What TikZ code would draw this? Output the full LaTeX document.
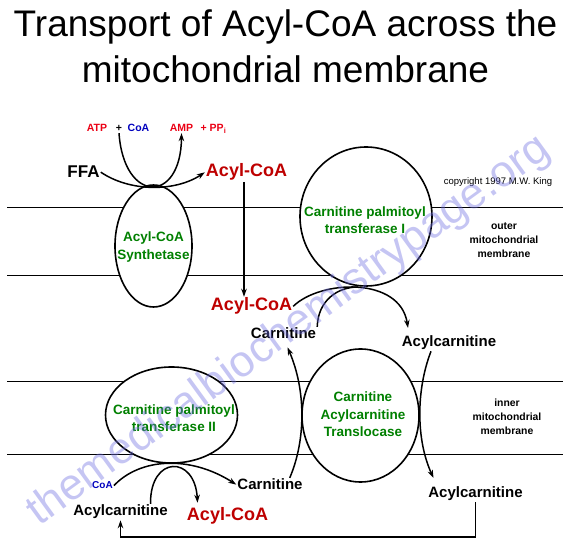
\documentclass[tikz,border=0pt]{standalone}
\usepackage{fontspec}
\setmainfont{Liberation Sans}
\usetikzlibrary{shapes.geometric,arrows.meta}
\definecolor{enzgreen}{RGB}{0,128,0}
\definecolor{acylred}{RGB}{190,0,0}
\definecolor{cofred}{RGB}{235,0,20}
\definecolor{cofblue}{RGB}{0,0,190}
\definecolor{wmblue}{RGB}{110,110,225}
\tikzset{
  titletext/.style={font=\fontsize{37}{44}\selectfont, anchor=base, inner sep=0pt},
  enzyme/.style={draw, ellipse, line width=1.6pt, fill=white, inner sep=0pt},
  enzymelabel/.style={text=enzgreen, font=\fontsize{13.5}{17.5}\selectfont\bfseries, align=center, inner sep=1pt},
  metab/.style={font=\fontsize{15}{18}\selectfont\bfseries, inner sep=1pt, anchor=base},
  acylcoa/.style={text=acylred, font=\fontsize{18}{21}\selectfont\bfseries, inner sep=1pt, anchor=base},
  cofactor/.style={font=\fontsize{10.5}{12}\selectfont\bfseries, inner sep=1pt, anchor=base},
  memlabel/.style={font=\fontsize{10.4}{14}\selectfont\bfseries, align=center},
  memline/.style={line width=0.9pt},
  touch/.style={line width=1.5pt},
  flow/.style={touch, -{Stealth[length=8pt,width=5.5pt]}},
  watermark/.style={text=wmblue, opacity=0.4, font=\fontsize{44}{44}\selectfont}
}
\def\memL{7}
\def\memR{563}
\newcommand{\MembranePair}[2]{%
  % #1 upper y, #2 lower y
  \draw[memline] (\memL,#1) -- (\memR,#1);
  \draw[memline] (\memL,#2) -- (\memR,#2);
}

\begin{document}
\begin{tikzpicture}[x=1pt, y=-1pt]
  \useasboundingbox (0,0) rectangle (571,553);

  % title
  \node[titletext] (title1) at (285.5,37) {Transport of Acyl-CoA across the};
  \node[titletext] (title2) at (285.5,83) {mitochondrial membrane};

  % outer and inner membrane
  \MembranePair{207}{275}
  \MembranePair{381}{454}
  \node[memlabel] (outerlbl) at (504,240) {outer\\mitochondrial\\membrane};
  \node[memlabel] (innerlbl) at (507,417) {inner\\mitochondrial\\membrane};
  \node[font=\fontsize{9.5}{11}\selectfont] (copyr) at (498,182) {copyright 1997 M.W. King};

  % enzymes
  \node[enzyme, minimum width=77, minimum height=122] (syn) at (153.5,246) {};
  \node[enzyme, minimum width=132, minimum height=139] (cpt1) at (366,216.5) {};
  \node[enzyme, minimum width=117, minimum height=133] (tl) at (360.5,415.5) {};
  \node[enzyme, minimum width=132, minimum height=96] (cpt2) at (171.5,415) {};
  \node[enzymelabel] (syntext) at (153.5,247) {Acyl-CoA\\Synthetase};
  \node[enzymelabel] (cpt1text) at (365,220) {Carnitine palmitoyl\\transferase I};
  \node[enzymelabel] (tltext) at (363,414.5) {Carnitine\\Acylcarnitine\\Translocase};
  \node[enzymelabel] (cpt2text) at (174,418) {Carnitine palmitoyl\\transferase II};

  % cytosol
  \node[cofactor, text=cofred] (atp) at (97,132) {ATP};
  \node[cofactor] (plus) at (119,132) {+};
  \node[cofactor, text=cofblue] (coa1) at (138.5,132) {CoA};
  \node[cofactor, text=cofred] (amp) at (181.5,132) {AMP};
  \node[cofactor, text=cofred] (ppi) at (213.5,132) {+ PP\textsubscript{i}};
  \node[metab, font=\fontsize{17}{20}\selectfont\bfseries] (ffa) at (83.5,178) {FFA};
  \node[acylcoa] (acyl1) at (246.5,177) {Acyl-CoA};
  \draw[flow] (plus.south) .. controls (124,204) and (181,204) .. (amp.south);
  \draw[flow] (ffa.east) .. controls (130,192) and (175,192) .. (acyl1.west);

  % intermembrane space
  \node[acylcoa] (acyl2) at (251.5,311) {Acyl-CoA};
  \node[metab] (carn1) at (283.5,339) {Carnitine};
  \node[metab] (acylcarn1) at (449,347) {Acylcarnitine};
  \coordinate (cpt1touch) at (358,287);
  \draw[flow] ([xshift=-2.5]acyl1.south) -- ([xshift=-2.5]acyl1.south |- acyl2.north);
  \draw[flow] (acyl2.east) .. controls (320,280) and (400,276) .. ([xshift=-41,yshift=7]acylcarn1.north);
  \draw[touch] (carn1.north east) .. controls (318,300) and (338,287) .. (cpt1touch);

  % matrix
  \node[metab] (carn2) at (270,490) {Carnitine};
  \node[metab] (acylcarn2) at (475.5,498) {Acylcarnitine};
  \node[metab] (acylcarn3) at (120.5,516) {Acylcarnitine};
  \node[acylcoa] (acyl3) at (227.5,521) {Acyl-CoA};
  \node[cofactor, text=cofblue, font=\fontsize{10}{12}\selectfont\bfseries] (coa2) at (102.5,489) {CoA};
  \draw[flow] ([xshift=-18]acylcarn1.south) .. controls (416,390) and (416,440) .. ([xshift=-42,yshift=8]acylcarn2.north);
  \draw[flow] ([xshift=-14]carn2.north east) .. controls (306,440) and (306,390) .. ([xshift=4,yshift=-7]carn1.south);
  \draw[flow] (coa2.east) .. controls (140,458) and (190,455) .. (carn2.west);
  \draw[flow] ([xshift=30]acylcarn3.north) .. controls (150,455) and (195,455) .. ([xshift=-30,yshift=4]acyl3.north);
  \coordinate (loopbase) at (0,537);
  \draw[flow] (acylcarn2.south) -- (acylcarn2.south |- loopbase) -| (acylcarn3.south);

  \node[watermark, rotate=36] (wmark) at (289,331) {themedicalbiochemistrypage.org};
\end{tikzpicture}
\end{document}
